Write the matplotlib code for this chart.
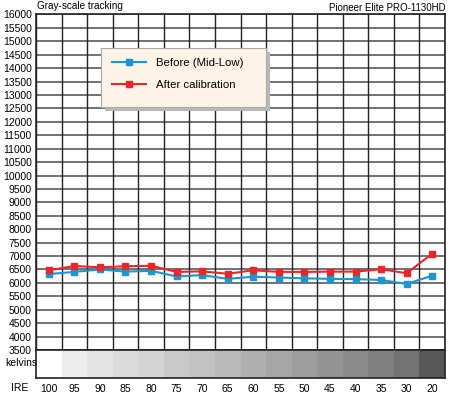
import numpy as np
import matplotlib.pyplot as plt
from matplotlib.patches import Rectangle

# IRE steps (columns)
ire = ['100', '95', '90', '85', '80', '75', '70', '65', '60', '55', '50', '45', '40', '35', '30', '20']
# colour temperature in kelvins
before = [6330, 6410, 6500, 6420, 6450, 6240, 6290, 6150, 6230, 6200, 6170, 6150, 6140, 6110, 5960, 6270]
after = [6470, 6630, 6580, 6620, 6640, 6410, 6430, 6340, 6470, 6410, 6410, 6420, 6420, 6510, 6360, 7090]
# gray strip levels under each column
gray_levels = [1.0, 0.93, 0.89, 0.86, 0.83, 0.79, 0.76, 0.73, 0.69, 0.65, 0.62, 0.58, 0.54, 0.50, 0.45, 0.34]

ymin, ymax, ystep = 3500, 16000, 500
font = 'Liberation Sans'
fs = 7.5

fig = plt.figure(figsize=(4.5, 3.94), dpi=100)
ax = fig.add_axes([0.08, 0.1117, 0.9089, 0.8515])
x = np.arange(len(ire))

#Grid
for v in np.arange(ymin, ymax + 1, ystep):
    ax.axhline(v, color='#5a5a5a', lw=1.2, zorder=1)
for i in range(len(ire) + 1):
    ax.axvline(i - 0.5, color='#222222', lw=1.0, zorder=1)

#Lines
ax.plot(x, before, color='#1b95d3', lw=1.5, marker='s', ms=5, mfc='#1b95d3', mec='#1b95d3',
        label='Before (Mid-Low)', zorder=3)
ax.plot(x, after, color='#ea262b', lw=1.5, marker='s', ms=5, mfc='#ea262b', mec='#ea262b',
        label='After calibration', zorder=3)

ax.set_xlim(-0.5, len(ire) - 0.5)
ax.set_ylim(ymin, ymax)
ax.set_xticks([])
ax.set_yticks(np.arange(ymin, ymax + 1, ystep))
ax.tick_params(axis='y', length=0, pad=3, labelsize=fs)
for t in ax.get_yticklabels():
    t.set_family(font)
for s in ax.spines.values():
    s.set_color('#222222')
    s.set_linewidth(1.2)

#Legend box with shadow
ax.add_patch(Rectangle((0.169, 0.712), 0.403, 0.176, transform=ax.transAxes,
                       facecolor='#b8b8b8', edgecolor='none', zorder=4))
ax.add_patch(Rectangle((0.159, 0.724), 0.403, 0.176, transform=ax.transAxes,
                       facecolor='#fdf3e6', edgecolor='#aaaaaa', lw=0.8, zorder=4))
leg = ax.legend(loc='upper left', bbox_to_anchor=(0.186, 0.870), frameon=False,
                handlelength=3.0, handletextpad=0.9, labelspacing=1.0,
                borderpad=0, borderaxespad=0, prop={'family': font, 'size': 8.2})
leg.set_zorder(5)

#Gray strip
ax2 = fig.add_axes([0.08, 0.0406, 0.9089, 0.0711])
for i, g in enumerate(gray_levels):
    ax2.add_patch(Rectangle((i - 0.5, 0), 1, 1, facecolor=(g, g, g), edgecolor='none'))
ax2.set_xlim(-0.5, len(ire) - 0.5)
ax2.set_ylim(0, 1)
ax2.set_xticks(x)
ax2.set_xticklabels(ire, family=font, fontsize=fs)
ax2.tick_params(axis='x', length=0, pad=4)
ax2.set_yticks([])
for s in ax2.spines.values():
    s.set_color('#222222')
    s.set_linewidth(1.2)

fig.text(0.012, 0.078, 'kelvins', fontsize=fs, family=font, va='center', ha='left')
fig.text(0.025, 0.015, 'IRE', fontsize=fs, family=font, va='center', ha='left')
fig.text(0.082, 0.984, 'Gray-scale tracking', fontsize=7.2, family=font, va='center', ha='left')
fig.text(0.99, 0.979, 'Pioneer Elite PRO-1130HD', fontsize=7, family=font, va='center', ha='right')

fig.savefig('out.png', dpi=100)
